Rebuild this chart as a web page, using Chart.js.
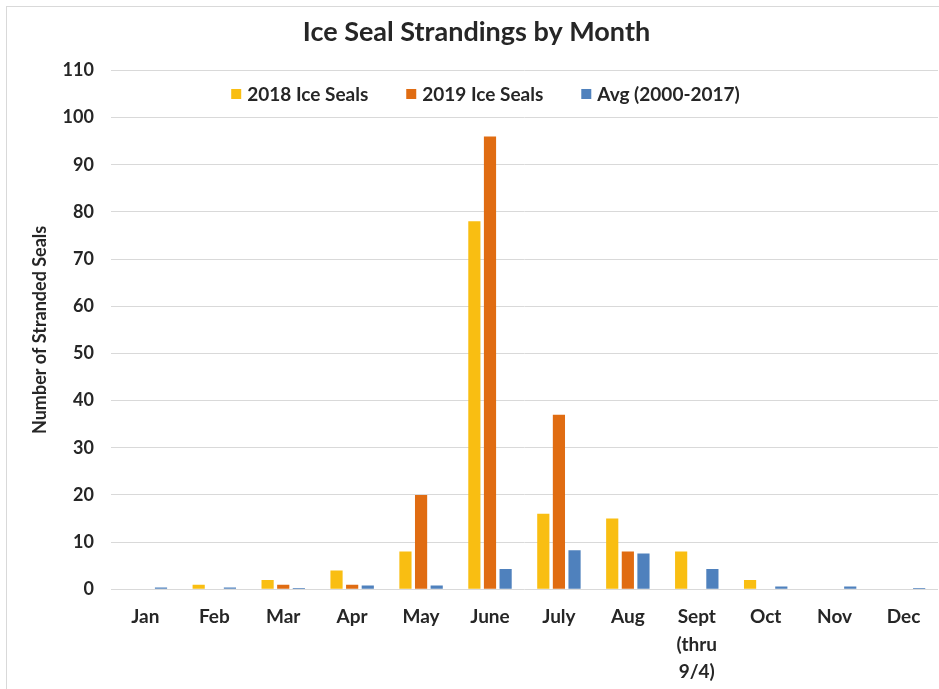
<!DOCTYPE html>
<html>
<head>
<meta charset="utf-8">
<script src="https://cdn.jsdelivr.net/npm/chart.js@4"></script>
<style>
  html, body { margin: 0; padding: 0; background: #ffffff; }
  #wrap { position: relative; width: 939px; height: 689px; overflow: hidden; }
  #frame { position: absolute; left: 6px; top: 6px; width: 960px; height: 700px; border: 1px solid #d9d9d9; box-sizing: border-box; }
  canvas { position: absolute; left: 0; top: 0; }
</style>
</head>
<body>
<div id="wrap">
  <div id="frame"></div>
  <canvas id="c" width="939" height="689"></canvas>
</div>
<script>
const months = ['Jan', 'Feb', 'Mar', 'Apr', 'May', 'June', 'July', 'Aug', ['Sept', '(thru', '9/4)'], 'Oct', 'Nov', 'Dec'];
const seals2018 = [0, 1, 2, 4, 8, 78, 16, 15, 8, 2, 0, 0];
const seals2019 = [0, 0, 1, 1, 20, 96, 37, 8, 0, 0, 0, 0];
const avg2000to2017 = [0.4, 0.4, 0.3, 0.8, 0.8, 4.3, 8.3, 7.6, 4.3, 0.6, 0.6, 0.3];
const seriesNames = ['2018 Ice Seals', '2019 Ice Seals', 'Avg (2000-2017)'];
const seriesColors = ['#F9BE12', '#E06C12', '#4F81BD'];
const chartTitle = 'Ice Seal Strandings by Month';
const yTitle = 'Number of Stranded Seals';

const FONT = 'Lato, "Open Sans", sans-serif';
const TXT = '#262626';

const insideLegend = {
  id: 'insideLegend',
  afterDraw(chart) {
    const ctx = chart.ctx;
    ctx.save();
    ctx.font = 'bold 19px ' + FONT;
    ctx.textBaseline = 'middle';
    const box = 10, gapBox = 6, gapItem = 38;
    const items = chart.data.datasets.map(d => ({ label: d.label, color: d.backgroundColor, w: ctx.measureText(d.label).width }));
    const total = items.reduce((s, it) => s + box + gapBox + it.w, 0) + gapItem * (items.length - 1);
    const yScale = chart.scales.y;
    const cy = (yScale.getPixelForValue(110) + yScale.getPixelForValue(100)) / 2;
    let x = chart.width / 2 + 16 - total / 2;
    items.forEach(it => {
      ctx.fillStyle = it.color;
      ctx.fillRect(x, cy - box / 2, box, box);
      x += box + gapBox;
      ctx.fillStyle = TXT;
      ctx.fillText(it.label, x, cy + 1);
      x += it.w + gapItem;
    });
    ctx.restore();
  }
};

new Chart(document.getElementById('c'), {
  type: 'bar',
  data: {
    labels: months,
    datasets: [
      { label: seriesNames[0], data: seals2018, backgroundColor: seriesColors[0] },
      { label: seriesNames[1], data: seals2019, backgroundColor: seriesColors[1] },
      { label: seriesNames[2], data: avg2000to2017, backgroundColor: seriesColors[2] }
    ]
  },
  options: {
    responsive: false,
    animation: false,
    devicePixelRatio: 1,
    layout: { padding: { left: 15, right: 1, top: 0, bottom: -3 } },
    datasets: { bar: { categoryPercentage: 0.68, barPercentage: 0.78 } },
    plugins: {
      legend: { display: false },
      tooltip: { enabled: false },
      title: {
        display: true,
        text: chartTitle,
        color: TXT,
        font: { family: FONT, size: 27, weight: 'bold' },
        padding: { top: 16, bottom: 22 }
      }
    },
    scales: {
      x: {
        grid: { display: false },
        border: { display: false },
        ticks: {
          color: TXT,
          font: { family: FONT, size: 19, weight: 'bold', lineHeight: 1.45 },
          padding: 6,
          maxRotation: 0,
          autoSkip: false
        }
      },
      y: {
        min: 0,
        max: 110,
        ticks: {
          stepSize: 10,
          color: TXT,
          font: { family: FONT, size: 18, weight: 'bold' },
          padding: 17
        },
        grid: { color: '#d9d9d9', lineWidth: 1, drawTicks: false },
        border: { display: false },
        title: {
          display: true,
          text: yTitle,
          color: TXT,
          font: { family: FONT, size: 18, weight: 'bold' },
          padding: { top: 14, bottom: -5 }
        }
      }
    }
  },
  plugins: [insideLegend]
});
</script>
</body>
</html>
